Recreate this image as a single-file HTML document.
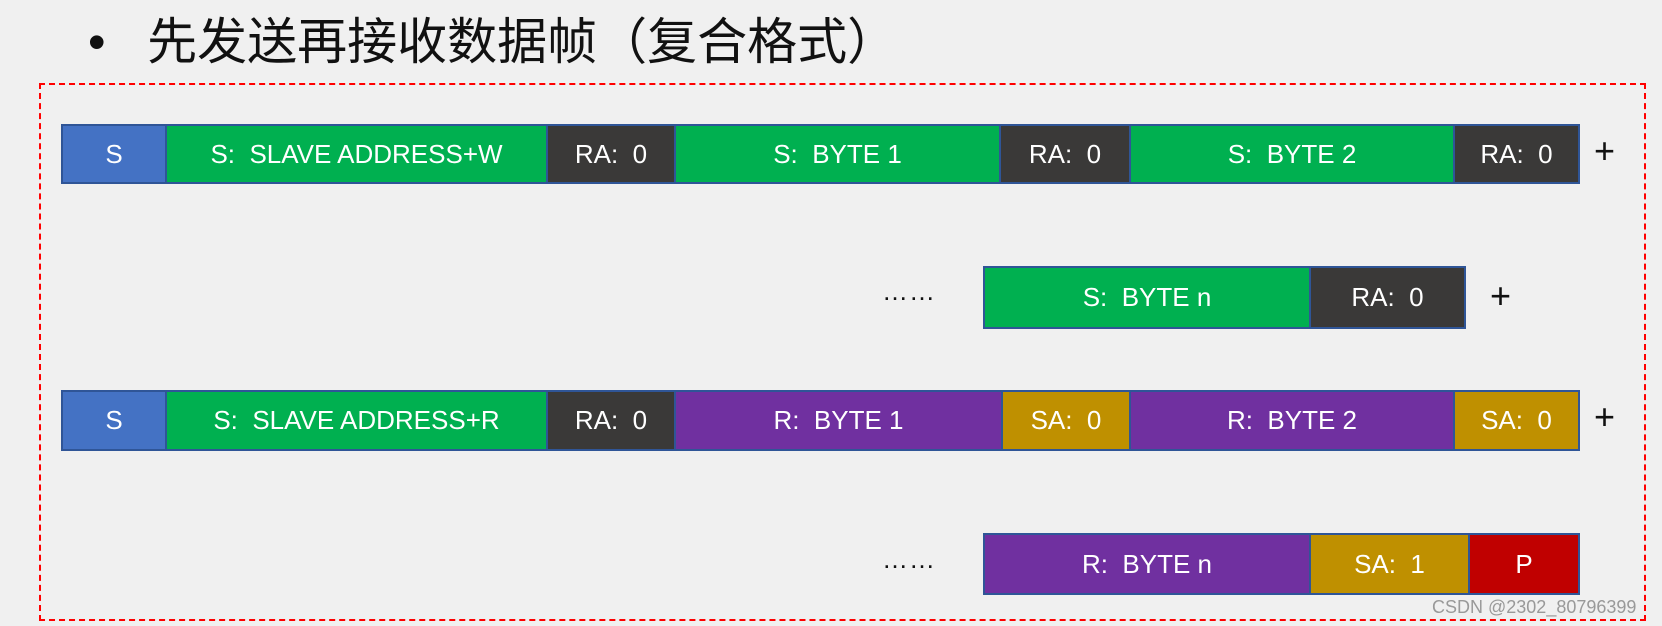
<!DOCTYPE html>
<html><head><meta charset="utf-8"><style>
html,body{margin:0;padding:0}
body{width:1662px;height:626px;background:#f0f0f0;position:relative;overflow:hidden;font-family:"Liberation Sans","Noto Sans CJK SC",sans-serif}
.t{position:absolute;left:88px;top:2px;font-size:50px;color:#111;white-space:nowrap}
.d{position:absolute;left:39px;top:83px;width:1603px;height:534px;border:2px dashed #ff0000}
.r{position:absolute;height:57px;border:2px solid #2f5597;display:flex;box-sizing:border-box}
.r div{height:100%;display:flex;align-items:center;justify-content:center;color:#fff;font-size:26px;white-space:nowrap;box-sizing:border-box}
.b{background:#4472c4}.g{background:#00b050}.k{background:#3a3938}.p{background:#7030a0}.y{background:#bf9000}.red{background:#c00000}
.sep{border-left:2px solid #2f5597}
.plus{position:absolute;font-size:36px;color:#111}
.dots{position:absolute;font-size:26px;color:#111;letter-spacing:1px}
.w{position:absolute;left:1432px;top:597px;font-size:18px;color:#999}
</style></head><body>
<div class="t">•&nbsp;&nbsp;&nbsp;先发送再接收数据帧（复合格式）</div>
<div class="d"></div>

<div class="r" style="left:61px;top:124px;width:1519px;height:60px">
<div class="b" style="width:102px">S</div>
<div class="g sep" style="width:381px">S:&nbsp; SLAVE ADDRESS+W</div>
<div class="k sep" style="width:128px">RA:&nbsp; 0</div>
<div class="g sep" style="width:325px">S:&nbsp; BYTE 1</div>
<div class="k sep" style="width:130px">RA:&nbsp; 0</div>
<div class="g sep" style="width:324px">S:&nbsp; BYTE 2</div>
<div class="k sep" style="flex:1">RA:&nbsp; 0</div>
</div>
<div class="plus" style="left:1594px;top:130px">+</div>

<div class="dots" style="left:882px;top:276px">……</div>
<div class="r" style="left:983px;top:266px;width:483px;height:63px">
<div class="g" style="width:324px">S:&nbsp; BYTE n</div>
<div class="k sep" style="flex:1">RA:&nbsp; 0</div>
</div>
<div class="plus" style="left:1490px;top:275px">+</div>

<div class="r" style="left:61px;top:390px;width:1519px;height:61px">
<div class="b" style="width:102px">S</div>
<div class="g sep" style="width:381px">S:&nbsp; SLAVE ADDRESS+R</div>
<div class="k sep" style="width:128px">RA:&nbsp; 0</div>
<div class="p sep" style="width:327px">R:&nbsp; BYTE 1</div>
<div class="y sep" style="width:128px">SA:&nbsp; 0</div>
<div class="p sep" style="width:324px">R:&nbsp; BYTE 2</div>
<div class="y sep" style="flex:1">SA:&nbsp; 0</div>
</div>
<div class="plus" style="left:1594px;top:396px">+</div>

<div class="dots" style="left:882px;top:544px">……</div>
<div class="r" style="left:983px;top:533px;width:597px;height:62px">
<div class="p" style="width:324px">R:&nbsp; BYTE n</div>
<div class="y sep" style="width:159px">SA:&nbsp; 1</div>
<div class="red sep" style="flex:1">P</div>
</div>
<div class="w">CSDN @2302_80796399</div>
</body></html>
